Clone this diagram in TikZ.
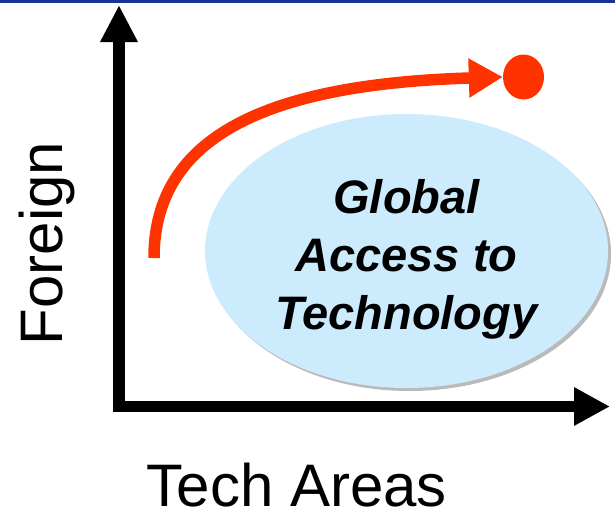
\documentclass[tikz,border=0pt]{standalone}
\usepackage{fontspec}
\setmainfont{Liberation Sans}
\usetikzlibrary{arrows.meta,shapes.geometric,shadows}

\definecolor{slideblue}{RGB}{24,52,150}
\definecolor{arcred}{RGB}{255,51,0}
\definecolor{gatblue}{RGB}{204,236,254}

\begin{document}
\begin{tikzpicture}[x=1pt, y=-1pt,
    axisline/.style={line width=11.5pt, line join=miter,
        {Triangle[length=37pt,width=35pt]}-{Triangle[length=36pt,width=36pt]}},
    axislabel/.style={font=\fontsize{60}{72}\selectfont, inner sep=0pt},
    gatellipse/.style={ellipse, fill=gatblue, minimum width=403pt,
        minimum height=274pt, inner sep=0pt,
        drop shadow={shadow xshift=3pt, shadow yshift=-3pt, fill=black!45, opacity=0.6}},
    gattext/.style={align=center, inner sep=0pt,
        font=\fontsize{47}{58}\selectfont\bfseries\itshape},
    reddot/.style={ellipse, fill=arcred, minimum width=41pt,
        minimum height=45pt, inner sep=0pt},
    redarc/.style={draw=arcred, line width=11.5pt,
        -{Triangle[length=34pt,width=37pt]}}]

        \useasboundingbox (0,0) rectangle (615,520);

        % Top rule
        \fill[slideblue] (0,0) rectangle (615,2.7);

        % Axes
        \coordinate (ytip) at (119,5);
        \coordinate (origin) at (119,406.5);
        \coordinate (xtip) at (610,406.5);
        \draw[axisline] (ytip) -- (origin) -- (xtip);

        % Axis labels
        \node[axislabel, rotate=90, anchor=base] (foreign) at (62,243.5) {Foreign};
        \node[axislabel, anchor=base] (techareas) at (297,506) {Tech Areas};

        % Ellipse
        \node[gatellipse] (gat) at (406.5,251) {};
        \node[gattext] (gatlabel) at (406.5,259) {Global\\Access to\\Technology};

        % Red arrow to the dot
        \node[reddot] (target) at (523.5,77) {};
        \coordinate (arcstart) at (154,258);
        \draw[redarc] (arcstart) .. controls (154,135) and (270,84) .. (target.west);

        \end{tikzpicture}
\end{document}
